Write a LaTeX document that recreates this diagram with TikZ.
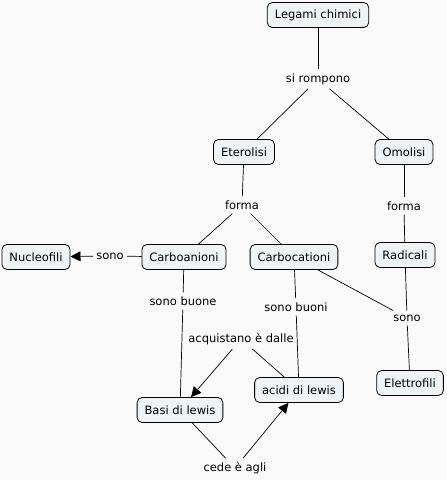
\documentclass[tikz,border=0pt]{standalone}
\usepackage{fontspec}
\setmainfont{DejaVu Sans}
\usetikzlibrary{arrows.meta}
\definecolor{bg}{HTML}{FAFAFA}
\definecolor{boxfill}{HTML}{EEF3F6}
\begin{document}
\begin{tikzpicture}[x=1pt,y=-1pt,
  font=\fontsize{11.5}{13.5}\selectfont,
  concept/.style={draw=black, fill=boxfill, rounded corners=5pt, line width=0.8pt,
    minimum height=25pt, inner xsep=7.5pt, inner ysep=0pt},
  link/.style={inner xsep=3pt, inner ysep=4pt},
  conn/.style={line width=0.7pt},
  arr/.style={conn, -{Triangle[length=10pt,width=10pt]}}]
\fill[bg] (0,0) rectangle (447,480);
\useasboundingbox (0,0) rectangle (447,480);
% concepts
\node[concept] (legami) at (318,15) {Legami chimici};
\node[concept] (eterolisi) at (244,152) {Eterolisi};
\node[concept] (omolisi) at (404,152) {Omolisi};
\node[concept] (nucleofili) at (36,257) {Nucleofili};
\node[concept] (carboanioni) at (184,257) {Carboanioni};
\node[concept] (carbocationi) at (294,257) {Carbocationi};
\node[concept] (radicali) at (405,255) {Radicali};
\node[concept] (acidi) at (299,390) {acidi di lewis};
\node[concept] (basi) at (180,410) {Basi di lewis};
\node[concept] (elettrofili) at (410,383) {Elettrofili};
% links
\node[link] (rompono) at (318,79) {si rompono};
\node[link] (formaL) at (242,205) {forma};
\node[link] (formaR) at (404,206) {forma};
\node[link] (sonoL) at (110,256) {sono};
\node[link] (buone) at (183,301) {sono buone};
\node[link] (buoni) at (296,307) {sono buoni};
\node[link] (sonoR) at (407,318) {sono};
\node[link] (acquistano) at (241,339) {acquistano è dalle};
\node[link] (cede) at (235,468) {cede è agli};
% connectors
\draw[conn] (legami) -- (rompono);
\draw[conn] (rompono) -- (eterolisi);
\draw[conn] (rompono) -- (omolisi);
\draw[conn] (eterolisi) -- (formaL);
\draw[conn] (formaL) -- (carboanioni);
\draw[conn] (formaL) -- (carbocationi);
\draw[conn] (omolisi) -- (formaR);
\draw[conn] (formaR) -- (radicali);
\draw[conn] (carboanioni) -- (sonoL);
\draw[arr] (sonoL) -- (nucleofili);
\draw[conn] (carboanioni) -- (buone);
\draw[conn] (buone) -- (basi);
\draw[conn] (carbocationi) -- (buoni);
\draw[conn] (buoni) -- (acidi);
\draw[conn] (carbocationi) -- (sonoR);
\draw[conn] (radicali) -- (sonoR);
\draw[conn] (sonoR) -- (elettrofili);
\draw[conn] (acidi) -- (acquistano);
\draw[arr] (acquistano) -- (basi);
\draw[conn] (basi) -- (cede);
\draw[arr] (cede) -- (acidi);
\end{tikzpicture}
\end{document}
